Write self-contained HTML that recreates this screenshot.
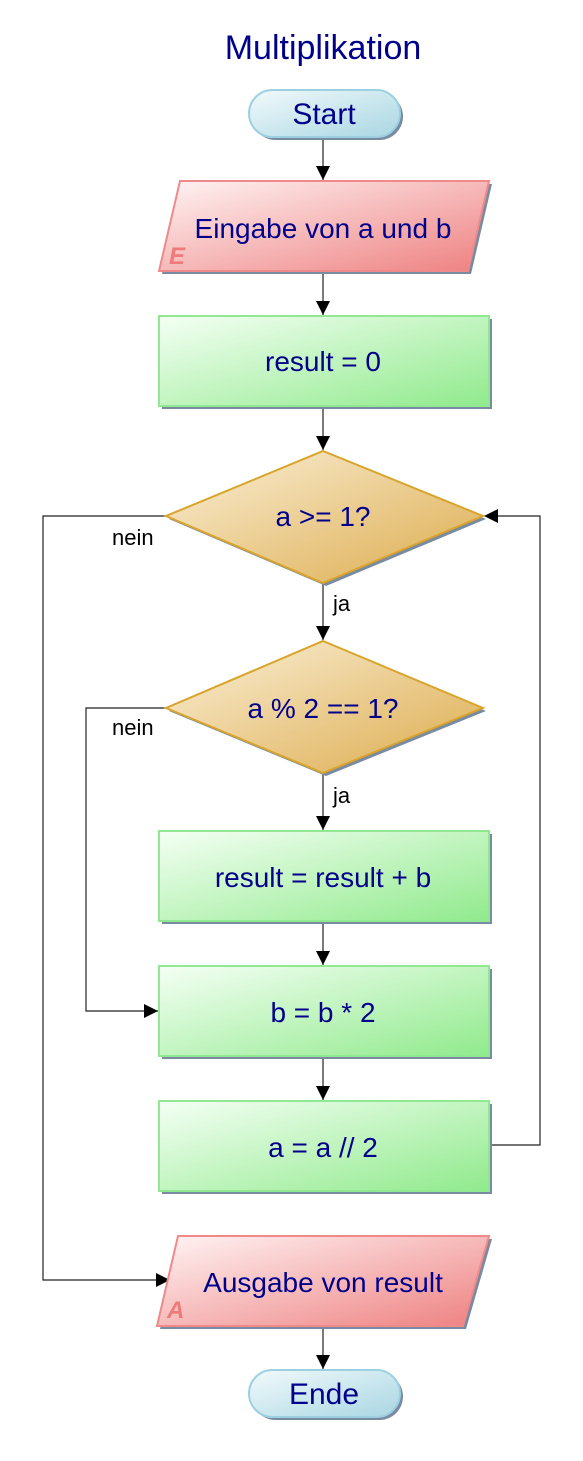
<!DOCTYPE html>
<html><head><meta charset="utf-8"><style>html,body{margin:0;padding:0;background:#fff}svg{display:block}</style></head>
<body>
<svg width="583" height="1461" viewBox="0 0 583 1461" xmlns="http://www.w3.org/2000/svg" font-family="Liberation Sans, Arial, sans-serif">
<defs>
<linearGradient id="g" x1="0" y1="0" x2="1" y2="1"><stop offset="0" stop-color="#f4fff4"/><stop offset="1" stop-color="#90ea8c"/></linearGradient>
<linearGradient id="r" x1="0" y1="0" x2="1" y2="1"><stop offset="0" stop-color="#fff4f4"/><stop offset="1" stop-color="#ee8080"/></linearGradient>
<linearGradient id="y" x1="0" y1="0" x2="1" y2="1"><stop offset="0" stop-color="#fbf0d8"/><stop offset="1" stop-color="#dcab4c"/></linearGradient>
<linearGradient id="b" x1="0" y1="0" x2="1" y2="1"><stop offset="0" stop-color="#f2fafc"/><stop offset="1" stop-color="#a8d6e2"/></linearGradient>
<marker id="a" markerWidth="14" markerHeight="14" refX="14" refY="7" orient="auto" markerUnits="userSpaceOnUse"><path d="M0,0 L14,7 L0,14z" fill="#000"/></marker>
</defs>
<text x="323" y="59" font-size="34" fill="#00008b" text-anchor="middle">Multiplikation</text>
<g stroke="#222" stroke-width="1.2" fill="none">
<line x1="323" y1="137" x2="323" y2="180" marker-end="url(#a)"/>
<line x1="323" y1="271" x2="323" y2="315" marker-end="url(#a)"/>
<line x1="323" y1="406" x2="323" y2="450" marker-end="url(#a)"/>
<line x1="323" y1="583" x2="323" y2="640" marker-end="url(#a)"/>
<line x1="323" y1="773" x2="323" y2="830" marker-end="url(#a)"/>
<line x1="323" y1="921" x2="323" y2="965" marker-end="url(#a)"/>
<line x1="323" y1="1056" x2="323" y2="1100" marker-end="url(#a)"/>
<line x1="323" y1="1326" x2="323" y2="1369" marker-end="url(#a)"/>
<polyline points="489,1145 540,1145 540,516 484,516" marker-end="url(#a)"/>
<polyline points="166,516 43,516 43,1280 170,1280" marker-end="url(#a)"/>
<polyline points="166,708 86,708 86,1011 158,1011" marker-end="url(#a)"/>
</g>
<g fill="#7a8aa0">
<rect x="252" y="93" width="151" height="47" rx="23.5"/>
<rect x="252" y="1373" width="151" height="47" rx="23.5"/>
<polygon points="183,184 492,184 471,274 162,274"/>
<polygon points="181,1239 492,1239 466,1329 160,1329"/>
<rect x="162" y="319" width="330" height="90"/>
<rect x="162" y="834" width="330" height="90"/>
<rect x="162" y="969" width="330" height="90"/>
<rect x="162" y="1104" width="330" height="90"/>
<polygon points="326,454 486,519 326,586 169,519"/>
<polygon points="326,644 486,711 326,776 169,711"/>
</g>
<g stroke-width="2">
<rect x="249" y="90" width="151" height="47" rx="23.5" fill="url(#b)" stroke="#9cd0e0"/>
<rect x="249" y="1370" width="151" height="47" rx="23.5" fill="url(#b)" stroke="#9cd0e0"/>
<polygon points="180,181 489,181 468,271 159,271" fill="url(#r)" stroke="#f08a8a"/>
<polygon points="178,1236 489,1236 463,1326 157,1326" fill="url(#r)" stroke="#f08a8a"/>
<rect x="159" y="316" width="330" height="90" fill="url(#g)" stroke="#90e890"/>
<rect x="159" y="831" width="330" height="90" fill="url(#g)" stroke="#90e890"/>
<rect x="159" y="966" width="330" height="90" fill="url(#g)" stroke="#90e890"/>
<rect x="159" y="1101" width="330" height="90" fill="url(#g)" stroke="#90e890"/>
<polygon points="323,451 483,516 323,583 166,516" fill="url(#y)" stroke="#d8a42c"/>
<polygon points="323,641 483,708 323,773 166,708" fill="url(#y)" stroke="#d8a42c"/>
</g>
<g fill="#00008b" font-size="28" text-anchor="middle">
<text x="324" y="124" font-size="30">Start</text>
<text x="323" y="238">Eingabe von a und b</text>
<text x="323" y="371">result = 0</text>
<text x="323" y="526">a &gt;= 1?</text>
<text x="323" y="718">a % 2 == 1?</text>
<text x="323" y="887">result = result + b</text>
<text x="323" y="1022">b = b * 2</text>
<text x="323" y="1157">a = a // 2</text>
<text x="323" y="1292">Ausgabe von result</text>
<text x="324" y="1404" font-size="30">Ende</text>
</g>
<g fill="#ee7a7a" font-size="24" font-weight="bold" font-style="italic">
<text x="169" y="264">E</text>
<text x="167" y="1318">A</text>
</g>
<g fill="#000" font-size="22">
<text x="112" y="545">nein</text>
<text x="112" y="735">nein</text>
<text x="333" y="611">ja</text>
<text x="333" y="803">ja</text>
</g>
</svg>
</body></html>
